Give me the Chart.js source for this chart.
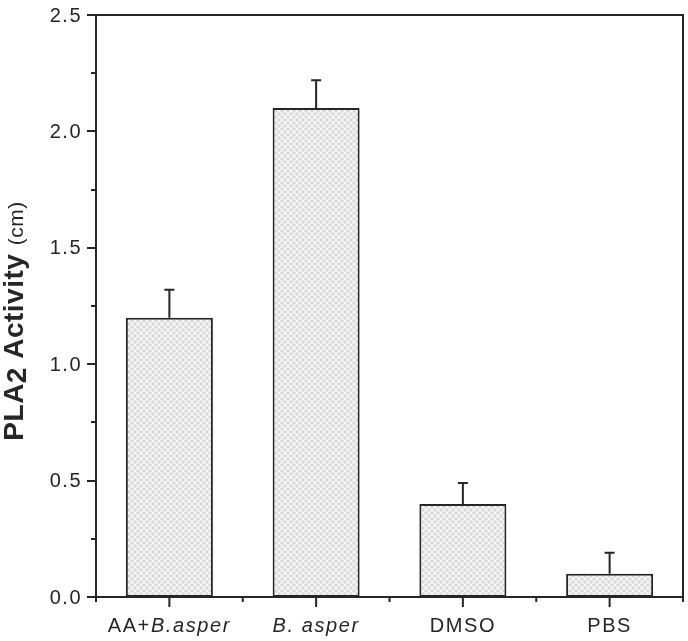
<!DOCTYPE html>
<html>
<head>
<meta charset="utf-8">
<script src="https://cdn.jsdelivr.net/npm/chart.js@4.4.1/dist/chart.umd.min.js"></script>
<style>
  html, body { margin: 0; padding: 0; background: #fff; }
  #wrap { width: 688px; height: 641px; }
</style>
</head>
<body>
<div id="wrap"><canvas id="chart" width="688" height="641"></canvas></div>
<script>
// data
const categories = ['AA+B.asper', 'B. asper', 'DMSO', 'PBS'];
// label pieces: [text, italic]
const categoryParts = [
  [['AA+', false], ['B.asper', true]],
  [['B. asper', true]],
  [['DMSO', false]],
  [['PBS', false]]
];
const activity = [1.2, 2.1, 0.4, 0.1];
const activityErr = [0.12, 0.12, 0.09, 0.09];
const yTicks = [0, 0.5, 1.0, 1.5, 2.0, 2.5];

const INK = '#262626';
const FONT = '"Liberation Sans", Arial, sans-serif';

// crosshatch fill like the printed figure
function makeHatch() {
  const c = document.createElement('canvas');
  c.width = 6; c.height = 6;
  const g = c.getContext('2d');
  g.fillStyle = '#d8d8d8';
  g.fillRect(0, 0, 6, 6);
  g.strokeStyle = '#f6f6f6';
  g.lineWidth = 1.3;
  g.beginPath();
  g.moveTo(-1, -1); g.lineTo(7, 7);
  g.moveTo(7, -1); g.lineTo(-1, 7);
  g.stroke();
  return document.getElementById('chart').getContext('2d').createPattern(c, 'repeat');
}

function drawText(ctx, parts, x, y, size, spacing) {
  // measure then draw centred
  let total = 0;
  parts.forEach(([t, it]) => {
    ctx.font = (it ? 'italic ' : '') + size + 'px ' + FONT;
    ctx.letterSpacing = spacing + 'px';
    total += ctx.measureText(t).width;
  });
  let cx = x - total / 2;
  parts.forEach(([t, it]) => {
    ctx.font = (it ? 'italic ' : '') + size + 'px ' + FONT;
    ctx.letterSpacing = spacing + 'px';
    ctx.textAlign = 'left';
    ctx.fillText(t, cx, y);
    cx += ctx.measureText(t).width;
  });
}

const axesPlugin = {
  id: 'originAxes',
  afterDatasetsDraw(chart) {
    const ctx = chart.ctx;
    const a = chart.chartArea;
    const ys = chart.scales.y;
    const xs = chart.scales.x;
    ctx.save();

    // error bars (upper only)
    const meta = chart.getDatasetMeta(0);
    ctx.strokeStyle = INK;
    ctx.lineWidth = 2;
    meta.data.forEach((bar, i) => {
      const top = ys.getPixelForValue(activity[i]);
      const hi = ys.getPixelForValue(activity[i] + activityErr[i]);
      ctx.beginPath();
      ctx.moveTo(bar.x, top);
      ctx.lineTo(bar.x, hi);
      ctx.moveTo(bar.x - 5, hi);
      ctx.lineTo(bar.x + 5, hi);
      ctx.stroke();
    });

    // frame
    ctx.lineWidth = 2;
    ctx.strokeRect(a.left, a.top, a.right - a.left, a.bottom - a.top);

    // y ticks, major + minor
    for (let v = 0; v <= 2.5001; v += 0.25) {
      const py = Math.round(ys.getPixelForValue(v));
      const major = Math.abs(v / 0.5 - Math.round(v / 0.5)) < 1e-6;
      ctx.beginPath();
      ctx.moveTo(a.left - (major ? 9 : 5), py);
      ctx.lineTo(a.left, py);
      ctx.stroke();
    }
    ctx.fillStyle = INK;
    ctx.textBaseline = 'middle';
    ctx.font = '20px ' + FONT;
    ctx.letterSpacing = '1.5px';
    ctx.textAlign = 'right';
    yTicks.forEach(v => {
      ctx.fillText(v.toFixed(1), a.left - 14, ys.getPixelForValue(v) + 1);
    });

    // x ticks
    const step = (a.right - a.left) / categories.length;
    categories.forEach((c, i) => {
      const px = xs.getPixelForValue(i);
      ctx.beginPath();
      ctx.moveTo(px, a.bottom);
      ctx.lineTo(px, a.bottom + 10);
      ctx.stroke();
    });
    for (let i = 0; i <= categories.length; i++) {
      const px = a.left + i * step;
      ctx.beginPath();
      ctx.moveTo(px, a.bottom);
      ctx.lineTo(px, a.bottom + 5);
      ctx.stroke();
    }
    ctx.textBaseline = 'alphabetic';
    categoryParts.forEach((parts, i) => {
      drawText(ctx, parts, xs.getPixelForValue(i), a.bottom + 35, 20, 1.6);
    });

    // y title
    ctx.translate(23, (a.top + a.bottom) / 2 + 15);
    ctx.rotate(-Math.PI / 2);
    ctx.letterSpacing = '0.5px';
    const segs = [
      ['bold 28px ' + FONT, 'PLA', 0],
      ['bold 28px ' + FONT, '2', 3],
      ['bold 28px ' + FONT, ' Activity ', 0],
      ['21px ' + FONT, '(cm)', 0]
    ];
    let w = 0;
    segs.forEach(s => { ctx.font = s[0]; w += ctx.measureText(s[1]).width; });
    let tx = -w / 2;
    ctx.textAlign = 'left';
    segs.forEach(s => {
      ctx.font = s[0];
      ctx.fillText(s[1], tx, s[2]);
      tx += ctx.measureText(s[1]).width;
    });
    ctx.restore();
  }
};

new Chart(document.getElementById('chart'), {
  type: 'bar',
  data: {
    labels: categories,
    datasets: [{
      data: activity,
      backgroundColor: makeHatch(),
      borderColor: INK,
      borderWidth: 2,
      borderSkipped: false,
      categoryPercentage: 1,
      barPercentage: 0.593
    }]
  },
  options: {
    responsive: false,
    animation: false,
    layout: { padding: { top: 15, right: 5, left: 0, bottom: 0 } },
    plugins: { legend: { display: false }, tooltip: { enabled: false } },
    scales: {
      x: {
        ticks: { display: false },
        grid: { display: false, drawTicks: false },
        border: { display: false },
        afterFit: s => { s.height = 44; }
      },
      y: {
        min: 0,
        max: 2.5,
        ticks: { display: false, stepSize: 0.5 },
        grid: { display: false, drawTicks: false },
        border: { display: false },
        afterFit: s => { s.width = 96; }
      }
    }
  },
  plugins: [axesPlugin]
});
</script>
</body>
</html>
